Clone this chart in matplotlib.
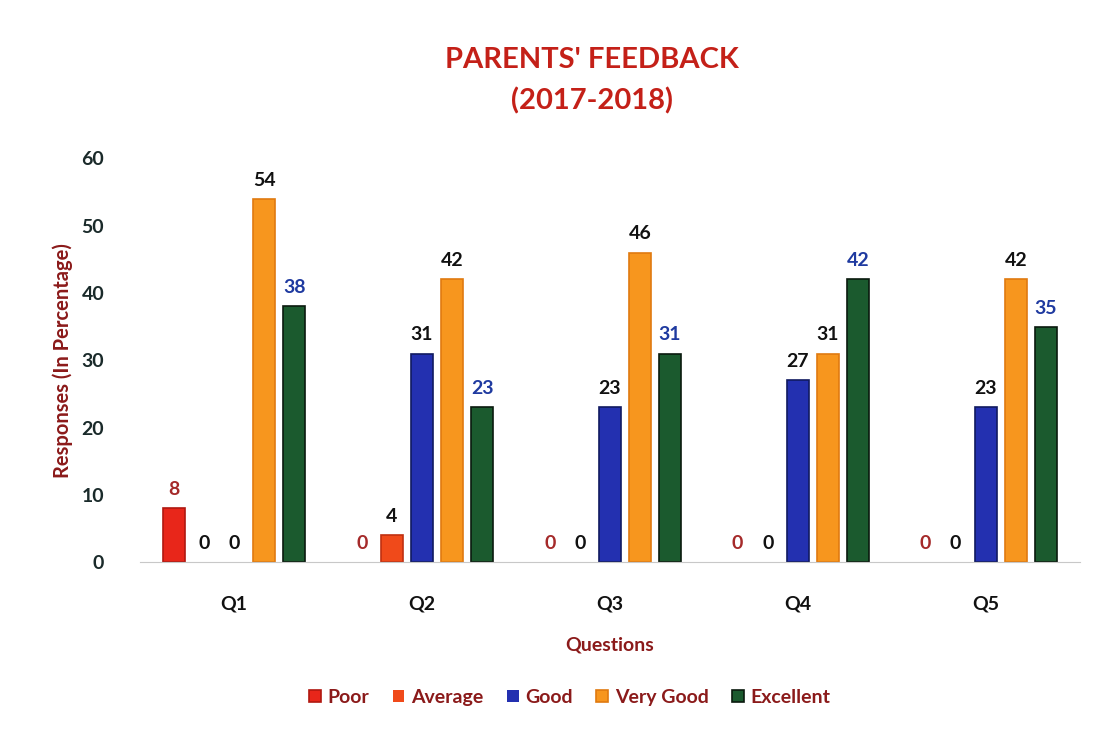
import numpy as np
import matplotlib
matplotlib.use("Agg")
import matplotlib.pyplot as plt

plt.rcParams['font.family'] = ['Lato', 'DejaVu Sans']

questions = ["Q1", "Q2", "Q3", "Q4", "Q5"]
series = ["Poor", "Average", "Good", "Very Good", "Excellent"]
poor = [8, 0, 0, 0, 0]
average = [0, 4, 0, 0, 0]
good = [0, 31, 23, 27, 23]
very_good = [54, 42, 46, 31, 42]
excellent = [38, 23, 31, 42, 35]

values = [poor, average, good, very_good, excellent]
colors = ["#e8261a", "#f04a1a", "#2330b0", "#f7961e", "#1b5a2e"]
edges = ["#b01810", "#c03010", "#101a60", "#e07a10", "#0a1a0e"]
label_colors = ["#a52a2a", "#111111", "#111111", "#111111", "#1f3aa0"]

fig = plt.figure(figsize=(11.13, 7.33), dpi=100)
ax = fig.add_axes([0.126, 0.233, 0.844, 0.551])

x = np.arange(len(questions))
w = 0.117
step = 0.16
for i, (name, vals) in enumerate(zip(series, values)):
    pos = x + (i - 2) * step
    lws = [1.2 if v > 0 else 0 for v in vals]
    ax.bar(pos, vals, width=w, color=colors[i], edgecolor=edges[i], linewidth=lws, label=name)
    for p, v in zip(pos, vals):
        ax.text(p, v + 1.5, str(v), ha='center', va='bottom', fontsize=14,
                fontweight='bold', color=label_colors[i])

ax.set_xlim(-0.5, 4.5)
ax.set_ylim(0, 60)
ax.set_yticks(range(0, 61, 10))
ax.set_xticks(x)
ax.set_xticklabels(questions, fontsize=14, fontweight='bold', color='#111111')
ax.tick_params(axis='y', labelsize=14, length=0, pad=26, labelcolor='#1a2a2a')
ax.tick_params(axis='x', length=0, pad=24)
for lbl in ax.get_yticklabels():
    lbl.set_fontweight('bold')
for s in ['top', 'right', 'left']:
    ax.spines[s].set_visible(False)
ax.spines['bottom'].set_color('#c8c8c8')

ax.set_ylabel("Responses (In Percentage)", fontsize=14.5, fontweight='bold', color='#8b1a1a', labelpad=6)
ax.set_xlabel("Questions", fontsize=14, fontweight='bold', color='#8b1a1a', labelpad=17)

fig.text(0.532, 0.918, "PARENTS' FEEDBACK", ha='center', va='center', fontsize=21,
         fontweight='bold', color='#c42018')
fig.text(0.532, 0.862, "(2017-2018)", ha='center', va='center', fontsize=21,
         fontweight='bold', color='#c42018')

leg = fig.legend(loc='center', bbox_to_anchor=(0.512, 0.049), ncol=5, frameon=False,
                 fontsize=14, handlelength=0.6, handleheight=0.6, columnspacing=1.2,
                 handletextpad=0.35)
for t in leg.get_texts():
    t.set_fontweight('bold')
    t.set_color('#8b1a1a')

fig.savefig("out.png", dpi=100)
